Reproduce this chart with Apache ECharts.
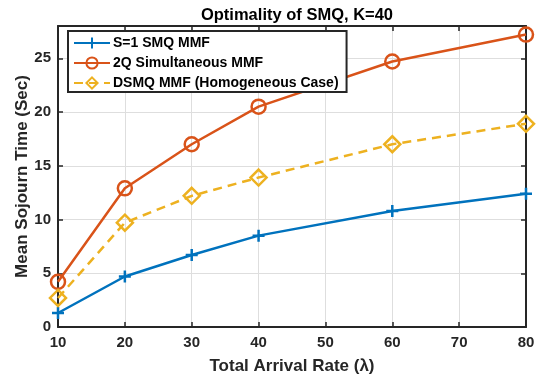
<!DOCTYPE html>
<html>
<head>
<meta charset="utf-8">
<script src="https://cdn.jsdelivr.net/npm/echarts@6/dist/echarts.min.js"></script>
<style>
html,body{margin:0;padding:0;background:#fff;}
#chart{width:538px;height:377px;}
</style>
</head>
<body>
<div id="chart"></div>
<script>
// Arrival rates on the x axis
const arrivalRates = [10, 20, 30, 40, 60, 80];
// Mean sojourn time (sec) for each policy
const smqS1 = [1.3, 4.7, 6.7, 8.5, 10.8, 12.4];
const twoQSimultaneous = [4.2, 12.9, 17.0, 20.5, 24.7, 27.2];
const dsmqHomogeneous = [2.7, 9.7, 12.2, 13.9, 17.0, 18.9];
const seriesNames = ['S=1 SMQ MMF', '2Q Simultaneous MMF', 'DSMQ MMF (Homogeneous Case)'];

const FONT = '"Liberation Sans", Arial, sans-serif';
const INK = '#262626';
const plusPath = 'path://M5,0L5,10M0,5L10,5';

function pairs(ys) { return arrivalRates.map((x, i) => [x, ys[i]]); }

function mkSeries(name, ys, color, symbol, size, dashed) {
  return {
    name: name, type: 'line', data: pairs(ys),
    symbol: symbol, symbolSize: size, showAllSymbol: true,
    lineStyle: { color: color, width: 2.5, type: dashed ? [9, 6] : 'solid' },
    itemStyle: { color: 'rgba(255,255,255,0)', borderColor: color, borderWidth: 2.5 },
    emphasis: { disabled: true }, animation: false
  };
}

const axisLineStyle = { show: true, onZero: false, lineStyle: { color: INK, width: 2 } };
const tickStyle = { inside: true, length: 5, lineStyle: { color: INK, width: 1.5 } };
const chart = echarts.init(document.getElementById('chart'), null, { renderer: 'canvas' });
chart.setOption({
  backgroundColor: '#fff',
  animation: false,
  title: {
    text: 'Optimality of SMQ, K=40', left: 292, top: 2, textAlign: 'center',
    textStyle: { fontFamily: FONT, fontWeight: 'bold', fontSize: 16.5, color: '#000' }
  },
  legend: {
    left: 68, top: 31, orient: 'vertical', itemGap: 6, itemWidth: 36, itemHeight: 14,
    padding: [5, 8, 2, 5],
    backgroundColor: '#fff', borderColor: INK, borderWidth: 2,
    textStyle: { fontFamily: FONT, fontWeight: 'bold', fontSize: 14, color: '#000', padding: [0, 0, 0, -2] },
    data: seriesNames
  },
  grid: { left: 58, right: 12, top: 26, bottom: 50, containLabel: false, outerBoundsMode: 'none' },
  xAxis: [{
    type: 'value', min: 10, max: 80, interval: 10,
    name: 'Total Arrival Rate (λ)', nameLocation: 'middle', nameGap: 31, nameMoveOverlap: false,
    nameTextStyle: { fontFamily: FONT, fontWeight: 'bold', fontSize: 17, color: INK },
    axisLine: axisLineStyle, axisTick: tickStyle,
    axisLabel: { fontFamily: FONT, fontWeight: 'bold', fontSize: 15, color: INK, margin: 8 },
    splitLine: { show: true, lineStyle: { color: '#dedede', width: 1 } }
  }, {
    type: 'value', min: 10, max: 80, interval: 10, position: 'top',
    axisLine: axisLineStyle, axisTick: tickStyle,
    axisLabel: { show: false }, splitLine: { show: false }
  }],
  yAxis: [{
    type: 'value', min: 0, max: 28, interval: 5,
    name: 'Mean Sojourn Time (Sec)', nameLocation: 'middle', nameGap: 27, nameMoveOverlap: false,
    nameTextStyle: { fontFamily: FONT, fontWeight: 'bold', fontSize: 17, color: INK },
    axisLine: axisLineStyle, axisTick: tickStyle,
    axisLabel: { fontFamily: FONT, fontWeight: 'bold', fontSize: 15, color: INK, margin: 7, showMaxLabel: false },
    splitLine: { show: true, lineStyle: { color: '#dedede', width: 1 } }
  }, {
    type: 'value', min: 0, max: 28, interval: 5, position: 'right',
    axisLine: axisLineStyle, axisTick: tickStyle,
    axisLabel: { show: false }, splitLine: { show: false }
  }],
  series: [
    mkSeries(seriesNames[0], smqS1, '#0072BD', plusPath, 12, false),
    mkSeries(seriesNames[1], twoQSimultaneous, '#D95319', 'circle', 14, false),
    mkSeries(seriesNames[2], dsmqHomogeneous, '#EDB120', 'diamond', 16, true)
  ]
});
</script>
</body>
</html>
